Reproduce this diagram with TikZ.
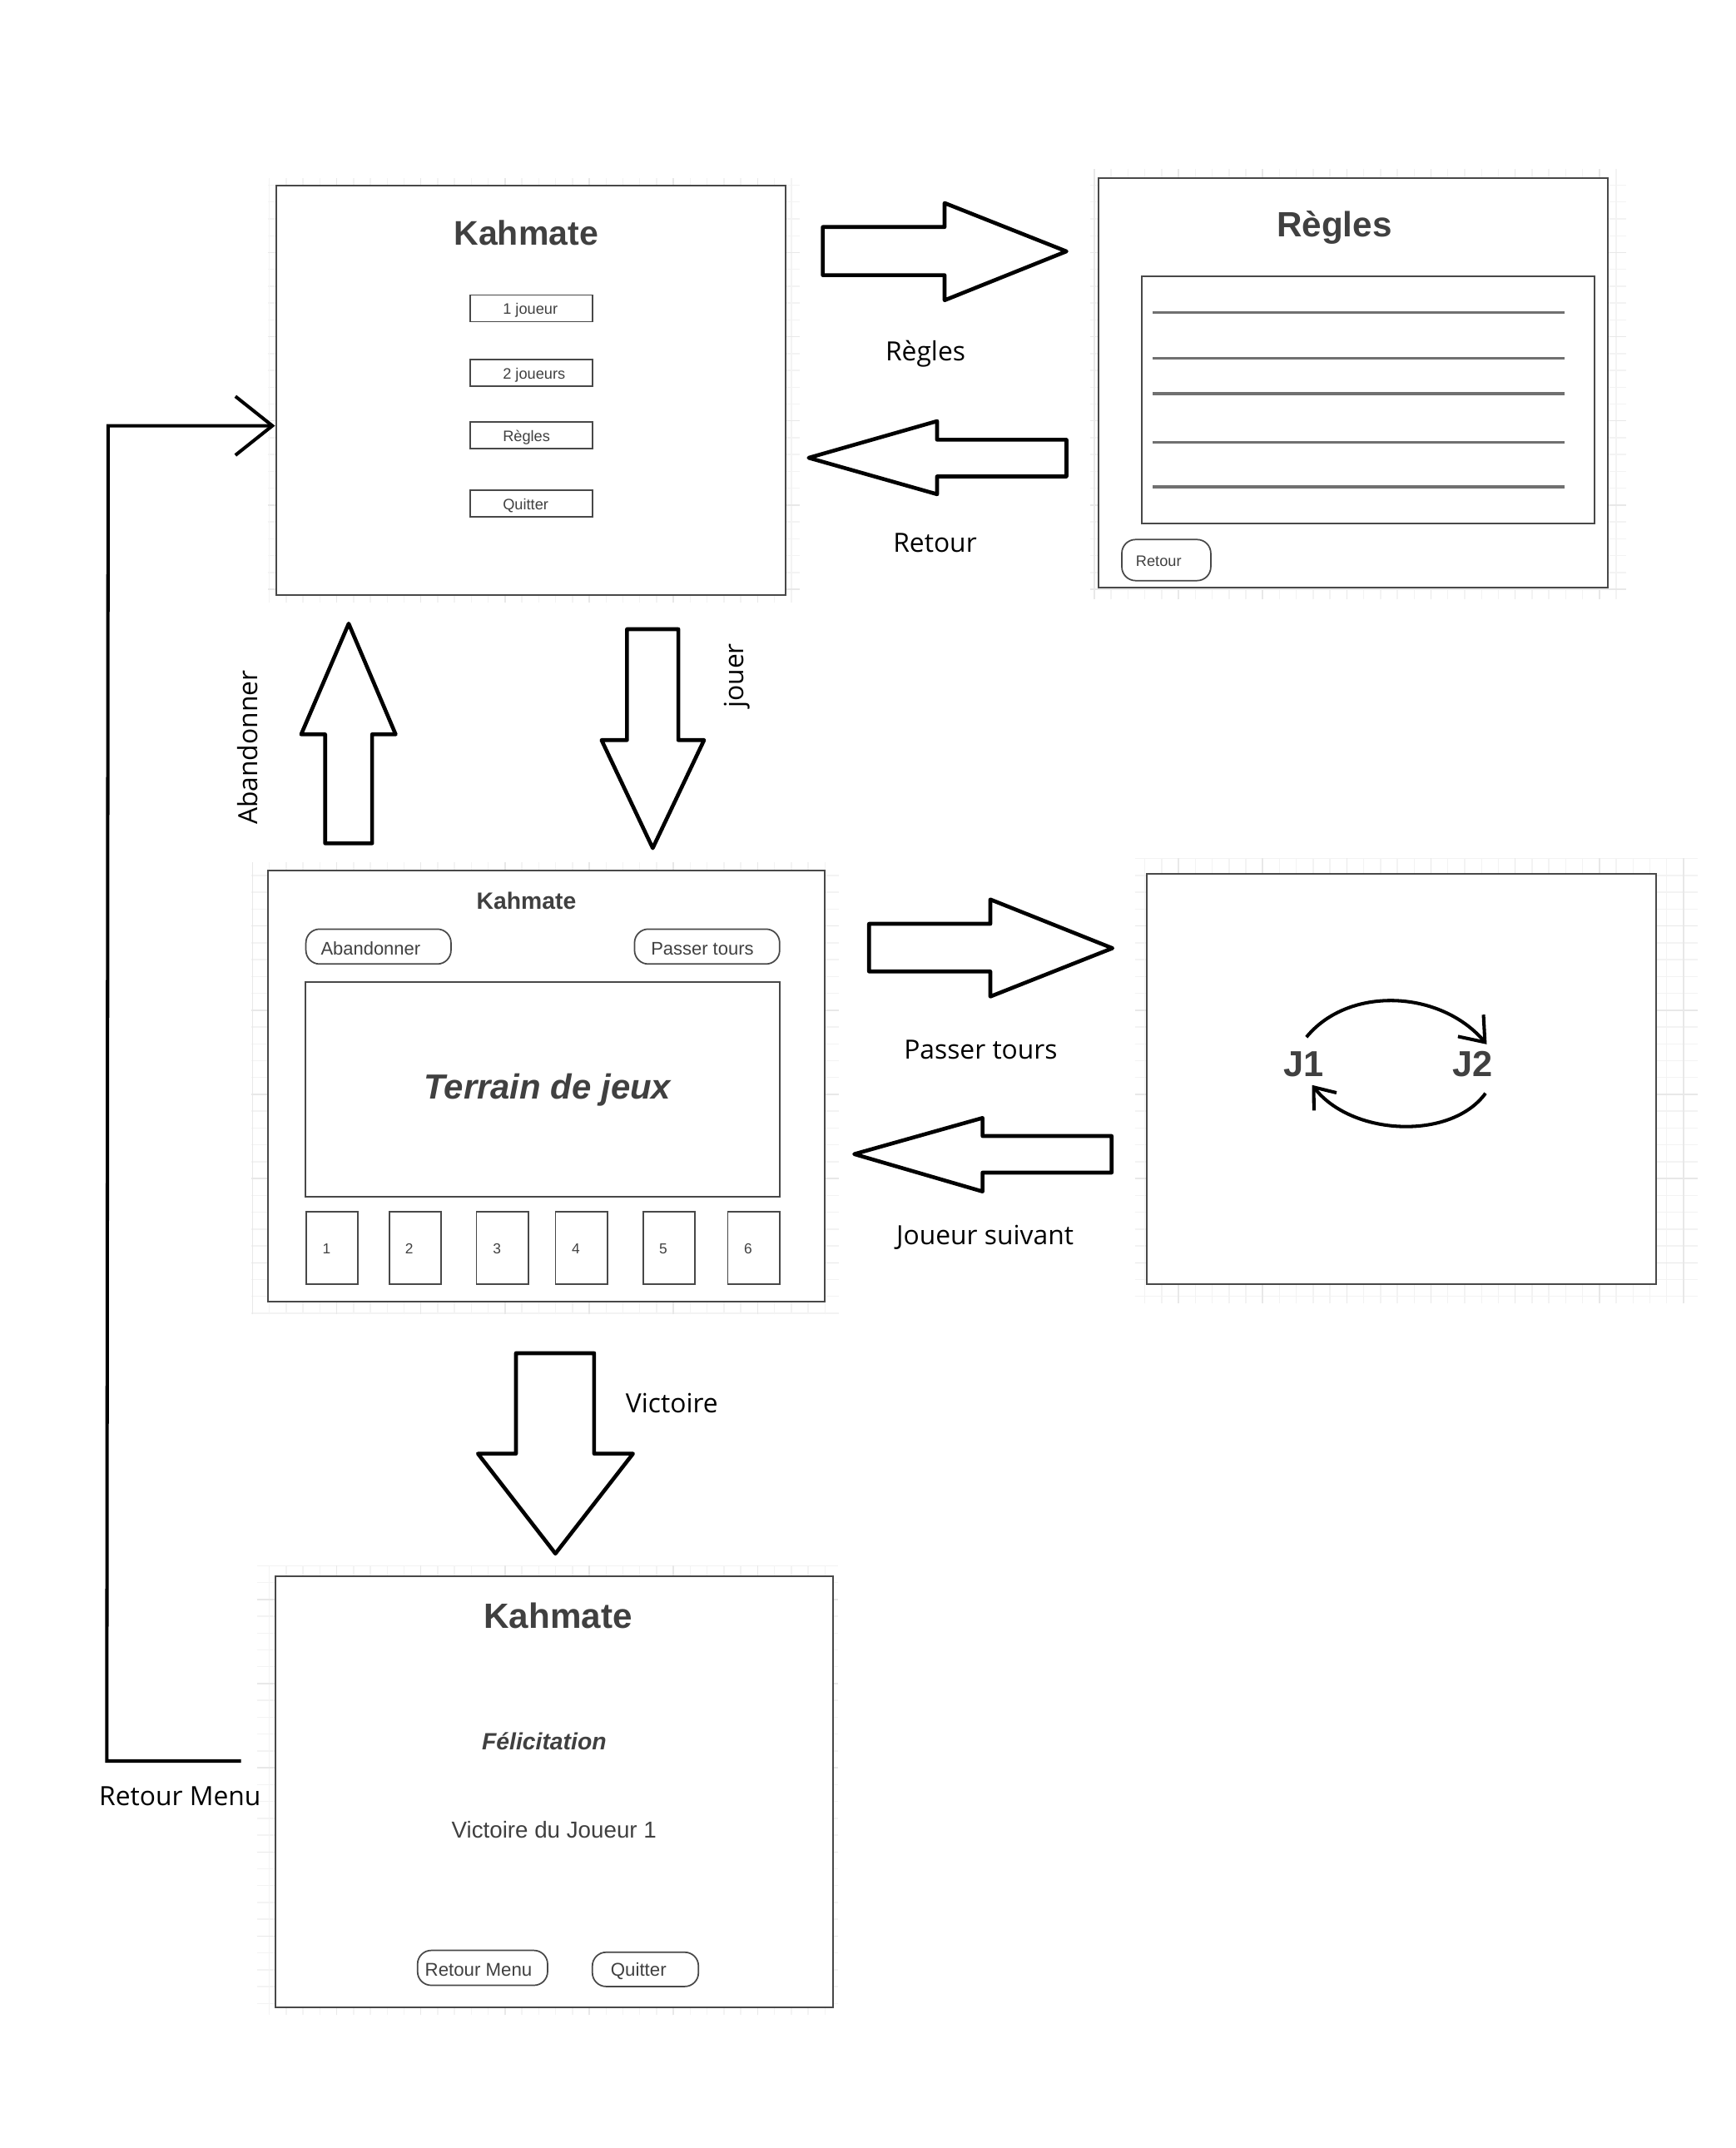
\documentclass[tikz,border=0pt]{standalone}
\usepackage{fontspec}
\setmainfont{Liberation Sans}
\newfontfamily\flowfont{Open Sans}
\usetikzlibrary{calc,arrows.meta}
\definecolor{inktext}{HTML}{404040}
\definecolor{boxline}{HTML}{484848}
\definecolor{ruleline}{HTML}{707070}
\definecolor{gridminor}{HTML}{F3F3F3}
\definecolor{gridmajor}{HTML}{E8E8E8}

\begin{document}
\begin{tikzpicture}[x=0.02cm, y=-0.02cm,
    screen/.style={draw=boxline, line width=0.7pt, fill=white, inner sep=0pt},
    uibtn/.style={draw=boxline, line width=0.6pt, inner sep=0pt},
    roundbtn/.style={uibtn, rounded corners=0.2cm},
    uitext/.style={text=inktext, inner sep=0pt},
    flowlabel/.style={font=\flowfont\fontsize{11}{13}\selectfont, inner sep=0pt},
    blockarrow/.style={draw=black, line width=1.6pt, line join=round},
    handline/.style={draw=black, line width=1.4pt},
    textline/.style={draw=ruleline, line width=1.1pt},
    gridfine/.style={draw=gridminor, line width=0.5pt, step=0.246cm},
    gridcoarse/.style={draw=gridmajor, line width=0.5pt, step=1.23cm}]

% Page
\fill [white] (0,0) rectangle (1267.5,1569.0);%
\useasboundingbox (0,0) rectangle (1267.5,1569.0);%

% Drawing grids behind the screens
\draw [gridfine] (196.0,440.0) grid (584.0,130.0);%
\draw [gridcoarse] (196.0,440.0) grid (584.0,130.0);%
\draw [gridfine] (796.6,437.7) grid (1188.0,123.6);%
\draw [gridcoarse] (796.6,437.7) grid (1188.0,123.6);%
\draw [gridfine] (183.5,960.0) grid (613.0,630.0);%
\draw [gridcoarse] (183.5,960.0) grid (613.0,630.0);%
\draw [gridfine] (829.0,952.0) grid (1240.0,627.0);%
\draw [gridcoarse] (829.0,952.0) grid (1240.0,627.0);%
\draw [gridfine] (187.6,1472.0) grid (612.0,1143.5);%
\draw [gridcoarse] (187.6,1472.0) grid (612.0,1143.5);%

% Drawing screen Menu
\node [screen, minimum width=7.45cm, minimum height=5.98cm] (menu) at (387.75,285.0) {};%
\draw (384.3,170.0) node [uitext, font=\bfseries\fontsize{14.2}{17}\selectfont] (menutitle) {Kahmate};%
\node [uibtn, minimum width=1.79cm, minimum height=0.39cm] (btnsolo) at (388.1,225.2) {};%
\draw (367.0,229.5) node [uitext, anchor=base west, font=\fontsize{6.3}{8}\selectfont] (txtsolo) {1 joueur};%
\node [uibtn, minimum width=1.79cm, minimum height=0.39cm] (btnduo) at (388.1,272.4) {};%
\draw (367.0,276.7) node [uitext, anchor=base west, font=\fontsize{6.3}{8}\selectfont] (txtduo) {2 joueurs};%
\node [uibtn, minimum width=1.79cm, minimum height=0.39cm] (btnrules) at (388.1,318.0) {};%
\draw (367.0,322.3) node [uitext, anchor=base west, font=\fontsize{6.3}{8}\selectfont] (txtrules) {Règles};%
\node [uibtn, minimum width=1.79cm, minimum height=0.39cm] (btnexit) at (388.1,367.9) {};%
\draw (367.0,372.4) node [uitext, anchor=base west, font=\fontsize{6.3}{8}\selectfont] (txtexit) {Quitter};%

% Drawing screen Regles
\node [screen, minimum width=7.44cm, minimum height=5.98cm] (rules) at (988.5,279.75) {};%
\draw (974.7,166.0) node [uitext, font=\bfseries\fontsize{14.6}{17}\selectfont] (rulestitle) {Règles};%
\node [uibtn, line width=0.7pt, minimum width=6.61cm, minimum height=3.61cm] (rulestext) at (999.25,292.3) {};%
\draw [textline] (842.0,228.4) -- (1143.0,228.4);%
\draw [textline] (842.0,261.8) -- (1143.0,261.8);%
\draw [textline] (842.0,287.5) -- (1143.0,287.5);%
\draw [textline] (842.0,323.2) -- (1143.0,323.2);%
\draw [textline] (842.0,355.6) -- (1143.0,355.6);%
\node [roundbtn, minimum width=1.30cm, minimum height=0.60cm] (btnback) at (851.95,409.1) {};%
\draw (829.4,413.8) node [uitext, anchor=base west, font=\fontsize{6.3}{8}\selectfont] (txtback) {Retour};%

% Drawing screen Jeu
\node [screen, minimum width=8.14cm, minimum height=6.30cm] (game) at (399.0,793.5) {};%
\draw (384.5,658.0) node [uitext, font=\bfseries\fontsize{9.8}{12}\selectfont] (gametitle) {Kahmate};%
\node [roundbtn, minimum width=2.12cm, minimum height=0.51cm] (btnquit) at (276.45,691.4) {};%
\draw (234.0,697.6) node [uitext, anchor=base west, font=\fontsize{7.6}{9}\selectfont] (txtquit) {Abandonner};%
\node [roundbtn, minimum width=2.12cm, minimum height=0.51cm] (btnpass) at (516.5,691.4) {};%
\draw (475.2,697.6) node [uitext, anchor=base west, font=\fontsize{7.6}{9}\selectfont] (txtpass) {Passer tours};%
\node [uibtn, line width=0.7pt, minimum width=6.93cm, minimum height=3.14cm] (board) at (396.6,795.6) {};%
\draw (400.0,796.4) node [uitext, font=\bfseries\itshape\fontsize{14.5}{17}\selectfont] (boardtext) {Terrain de jeux};%

% Drawing cards 1 to 6
\node [uibtn, minimum width=0.76cm, minimum height=1.06cm] (cardone) at (242.5,911.7) {};%
\draw (235.3,915.8) node [uitext, anchor=base west, font=\fontsize{6}{7}\selectfont] (txtcardone) {1};%
\node [uibtn, minimum width=0.76cm, minimum height=1.06cm] (cardtwo) at (303.4,911.7) {};%
\draw (295.6,915.8) node [uitext, anchor=base west, font=\fontsize{6}{7}\selectfont] (txtcardtwo) {2};%
\node [uibtn, minimum width=0.76cm, minimum height=1.06cm] (cardthree) at (367.0,911.7) {};%
\draw (359.8,915.8) node [uitext, anchor=base west, font=\fontsize{6}{7}\selectfont] (txtcardthree) {3};%
\node [uibtn, minimum width=0.76cm, minimum height=1.06cm] (cardfour) at (424.8,911.7) {};%
\draw (417.3,915.8) node [uitext, anchor=base west, font=\fontsize{6}{7}\selectfont] (txtcardfour) {4};%
\node [uibtn, minimum width=0.76cm, minimum height=1.06cm] (cardfive) at (488.7,911.7) {};%
\draw (481.2,915.8) node [uitext, anchor=base west, font=\fontsize{6}{7}\selectfont] (txtcardfive) {5};%
\node [uibtn, minimum width=0.76cm, minimum height=1.06cm] (cardsix) at (550.65,911.7) {};%
\draw (543.2,915.8) node [uitext, anchor=base west, font=\fontsize{6}{7}\selectfont] (txtcardsix) {6};%

% Drawing screen Tour
\node [screen, minimum width=7.45cm, minimum height=5.99cm] (turn) at (1023.75,788.25) {};%
\draw (952.3,777.3) node [uitext, font=\bfseries\fontsize{15}{18}\selectfont] (jone) {J1};%
\draw (1075.6,777.3) node [uitext, font=\bfseries\fontsize{15}{18}\selectfont] (jtwo) {J2};%
\draw [handline, -{Straight Barb[length=0.32cm,width=0.49cm]}] ($(jone.north)+(2.0,-10.2)$) .. controls (985.0,720.0) and (1052.0,723.0) .. ($(jtwo.north east)+(-4.6,-4.8)$);%
\draw [handline, -{Straight Barb[length=0.27cm,width=0.42cm]}] ($(jtwo.south east)+(-5.5,11.6)$) .. controls (1060.0,833.0) and (988.0,830.0) .. ($(jone.south)+(6.1,5.7)$);%

% Drawing screen Victoire
\node [screen, minimum width=8.15cm, minimum height=6.29cm] (win) at (404.65,1308.75) {};%
\draw (407.6,1180.0) node [uitext, font=\bfseries\fontsize{14.6}{17}\selectfont] (wintitle) {Kahmate};%
\draw (397.5,1272.0) node [uitext, font=\bfseries\itshape\fontsize{9.8}{12}\selectfont] (wincheer) {Félicitation};%
\draw (404.7,1336.5) node [uitext, font=\fontsize{9.6}{11}\selectfont] (winner) {Victoire du Joueur 1};%
\node [roundbtn, minimum width=1.90cm, minimum height=0.51cm] (btnmenu) at (352.5,1437.4) {};%
\draw (310.1,1443.2) node [uitext, anchor=base west, font=\fontsize{7.7}{9}\selectfont] (txtmenu) {Retour Menu};%
\node [roundbtn, minimum width=1.55cm, minimum height=0.50cm] (btnleave) at (471.45,1438.5) {};%
\draw (445.8,1443.2) node [uitext, anchor=base west, font=\fontsize{7.7}{9}\selectfont] (txtleave) {Quitter};%

% Drawing block arrow Menu -> Regles
\draw [blockarrow] (601.0,165.8) -- (690.0,165.8) -- (690.0,148.3) -- (779.0,183.6) -- (690.0,219.3) -- (690.0,201.0) -- (601.0,201.0) -- cycle;%
\draw (676.0,258.5) node [flowlabel] (lblrules) {Règles};%

% Drawing block arrow Regles -> Menu
\draw [blockarrow] (779.0,321.2) -- (684.5,321.2) -- (684.5,307.6) -- (590.7,334.4) -- (684.5,361.0) -- (684.5,348.0) -- (779.0,348.0) -- cycle;%
\draw (683.0,396.5) node [flowlabel] (lblback) {Retour};%

% Drawing block arrow Jeu -> Menu
\draw [blockarrow] (237.5,616.0) -- (237.5,536.4) -- (220.0,536.4) -- (254.7,455.5) -- (289.0,536.4) -- (271.8,536.4) -- (271.8,616.0) -- cycle;%
\draw (181.0,546.0) node [flowlabel, rotate=90] (lblquit) {Abandonner};%

% Drawing block arrow Menu -> Jeu
\draw [blockarrow] (458.0,459.6) -- (495.5,459.6) -- (495.5,540.6) -- (514.3,540.6) -- (476.8,619.5) -- (439.4,540.6) -- (458.0,540.6) -- cycle;%
\draw (538.5,493.5) node [flowlabel, rotate=90] (lblplay) {jouer};%

% Drawing block arrow Jeu -> Tour
\draw [blockarrow] (634.8,674.8) -- (723.4,674.8) -- (723.4,657.0) -- (812.6,692.6) -- (723.4,727.9) -- (723.4,709.6) -- (634.8,709.6) -- cycle;%
\draw (716.4,766.7) node [flowlabel] (lblpass) {Passer tours};%

% Drawing block arrow Tour -> Jeu
\draw [blockarrow] (812.0,829.8) -- (717.7,829.8) -- (717.7,816.6) -- (624.0,843.0) -- (717.7,870.3) -- (717.7,856.5) -- (812.0,856.5) -- cycle;%
\draw (719.5,903.8) node [flowlabel] (lblnext) {Joueur suivant};%

% Drawing block arrow Jeu -> Victoire
\draw [blockarrow] (376.9,988.4) -- (434.0,988.4) -- (434.0,1061.8) -- (462.4,1061.8) -- (405.7,1134.8) -- (349.1,1061.8) -- (376.9,1061.8) -- cycle;%
\draw (490.8,1025.0) node [flowlabel] (lblwin) {Victoire};%

% Drawing line Victoire -> Menu
\coordinate (retstart) at (176.0,1286.3);%
\coordinate (retbottom) at (78.0,1286.3);%
\coordinate (rettop) at (79.0,311.0);%
\draw [handline, -{Straight Barb[length=0.54cm,width=0.86cm]}] (retstart) -- (retbottom) -- (rettop) -- (rettop -| menu.west);%
\draw (131.5,1311.9) node [flowlabel] (lblmenu) {Retour Menu};%

\end{tikzpicture}
\end{document}
